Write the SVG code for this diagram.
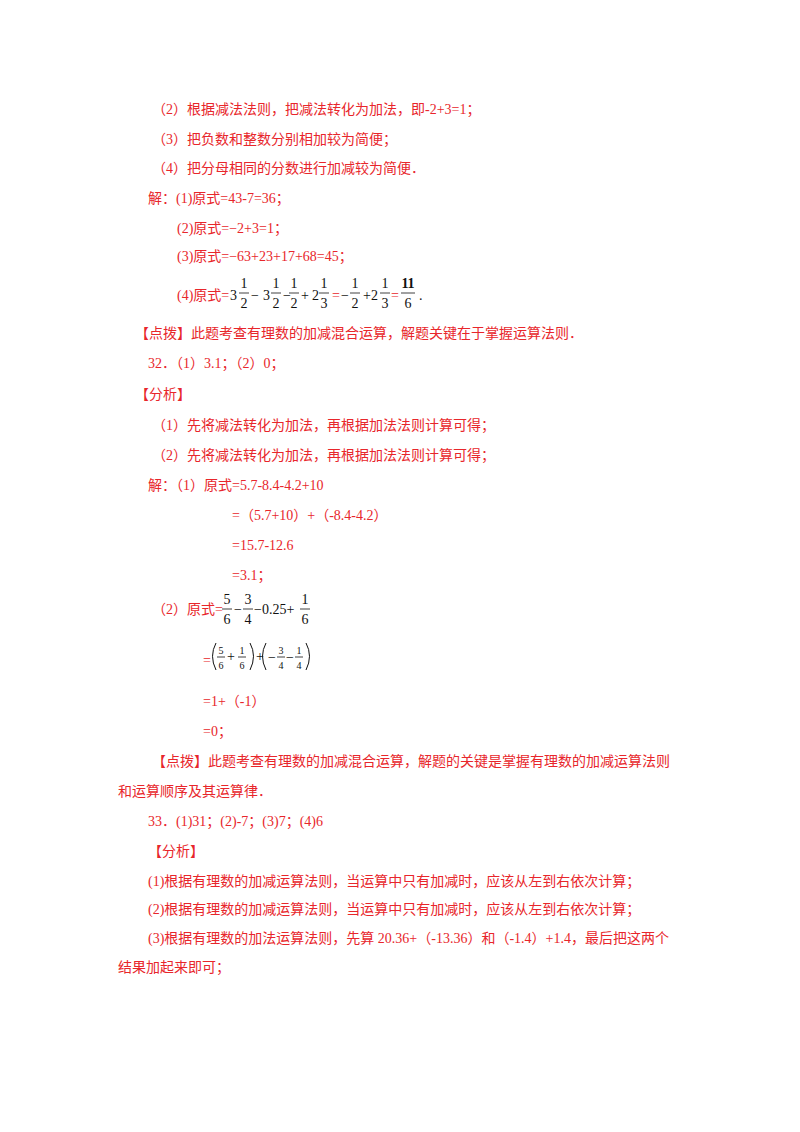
<svg xmlns="http://www.w3.org/2000/svg" width="800" height="1132" viewBox="0 0 800 1132">
<style>
text{font-family:"Liberation Serif","Noto Sans CJK SC",serif;font-size:14px}
.r{fill:#e8262b}
.k text{fill:#111}
.k .f{font-size:14px;text-anchor:middle}
.k .s{font-size:10px;text-anchor:middle}
line{stroke:#111;stroke-width:0.8}
.par{fill:none;stroke:#111;stroke-width:1}
</style>
<rect width="800" height="1132" fill="#fff"/>
<g class="r">
<text x="152" y="114">（2）根据减法法则，把减法转化为加法，即-2+3=1；</text>
<text x="152" y="144">（3）把负数和整数分别相加较为简便；</text>
<text x="152" y="173">（4）把分母相同的分数进行加减较为简便．</text>
<text x="148" y="203">解：(1)原式=43-7=36；</text>
<text x="177" y="233">(2)原式=−2+3=1；</text>
<text x="177" y="261">(3)原式=−63+23+17+68=45；</text>
<text x="177" y="300">(4)原式=</text>
<text x="332" y="300">=</text>
<text x="391" y="300">=</text>
</g>
<g class="k">
<text x="230" y="300">3</text>
<text x="251" y="300">−</text>
<text x="263" y="300">3</text>
<text x="283" y="300">−</text>
<text x="301" y="300">+</text>
<text x="312" y="300">2</text>
<text x="341" y="300">−</text>
<text x="363" y="300">+2</text>
<text x="419" y="300">.</text>
<text class="f" x="244" y="288">1</text><line x1="239" y1="293" x2="249" y2="293"/><text class="f" x="244" y="308">2</text>
<text class="f" x="276" y="288">1</text><line x1="271" y1="293" x2="281" y2="293"/><text class="f" x="276" y="308">2</text>
<text class="f" x="294" y="288">1</text><line x1="289" y1="293" x2="299" y2="293"/><text class="f" x="294" y="308">2</text>
<text class="f" x="324" y="288">1</text><line x1="319" y1="293" x2="329" y2="293"/><text class="f" x="324" y="308">3</text>
<text class="f" x="355" y="288">1</text><line x1="350" y1="293" x2="360" y2="293"/><text class="f" x="355" y="308">2</text>
<text class="f" x="385" y="288">1</text><line x1="380" y1="293" x2="390" y2="293"/><text class="f" x="385" y="308">3</text>
<text class="f" x="408" y="288" font-weight="bold">11</text><line x1="401" y1="293" x2="415" y2="293"/><text class="f" x="408" y="308">6</text>
</g>
<g class="r">
<text x="135" y="338">【点拨】此题考查有理数的加减混合运算，解题关键在于掌握运算法则．</text>
<text x="148" y="368" fill="#e8262b">32．（1）3.1；（2）0；</text>
<text x="135" y="399">【分析】</text>
<text x="152" y="430">（1）先将减法转化为加法，再根据加法法则计算可得；</text>
<text x="152" y="460">（2）先将减法转化为加法，再根据加法法则计算可得；</text>
<text x="148" y="490">解：（1）原式=5.7-8.4-4.2+10</text>
<text x="232" y="520">=（5.7+10）+（-8.4-4.2）</text>
<text x="232" y="550">=15.7-12.6</text>
<text x="232" y="580">=3.1；</text>
<text x="152" y="614">（2）原式=</text>
<text x="203" y="665">=</text>
<text x="203" y="706">=1+（-1）</text>
<text x="203" y="736">=0；</text>
</g>
<g class="k">
<text class="f" x="227" y="604">5</text><line x1="222" y1="609" x2="232" y2="609"/><text class="f" x="227" y="624">6</text>
<text x="234" y="614">−</text>
<text class="f" x="248" y="604">3</text><line x1="243" y1="609" x2="253" y2="609"/><text class="f" x="248" y="624">4</text>
<text x="254" y="614">−0.25+</text>
<text class="f" x="305" y="604">1</text><line x1="300" y1="609" x2="310" y2="609"/><text class="f" x="305" y="624">6</text>
<path class="par" d="M216 643 Q209 656 216 670"/>
<text class="s" x="221" y="654">5</text><line x1="217" y1="657" x2="225" y2="657"/><text class="s" x="221" y="669">6</text>
<text x="227" y="661" font-size="9">+</text>
<text class="s" x="242" y="654">1</text><line x1="238" y1="657" x2="246" y2="657"/><text class="s" x="242" y="669">6</text>
<path class="par" d="M250 643 Q257 656 250 670"/>
<text x="256" y="661" font-size="9">+</text>
<path class="par" d="M266 643 Q259 656 266 670"/>
<text x="268" y="662" font-size="11">−</text>
<text class="s" x="281" y="654">3</text><line x1="277" y1="657" x2="285" y2="657"/><text class="s" x="281" y="669">4</text>
<text x="286" y="662" font-size="11">−</text>
<text class="s" x="299" y="654">1</text><line x1="295" y1="657" x2="303" y2="657"/><text class="s" x="299" y="669">4</text>
<path class="par" d="M306 643 Q313 656 306 670"/>
</g>
<g class="r">
<text x="152" y="766">【点拨】此题考查有理数的加减混合运算，解题的关键是掌握有理数的加减运算法则</text>
<text x="118" y="796">和运算顺序及其运算律．</text>
<text x="148" y="826">33．(1)31；(2)-7；(3)7；(4)6</text>
<text x="148" y="856">【分析】</text>
<text x="148" y="886">(1)根据有理数的加减运算法则，当运算中只有加减时，应该从左到右依次计算；</text>
<text x="148" y="914">(2)根据有理数的加减运算法则，当运算中只有加减时，应该从左到右依次计算；</text>
<text x="148" y="943">(3)根据有理数的加法运算法则，先算 20.36+（-13.36）和（-1.4）+1.4，最后把这两个</text>
<text x="118" y="972">结果加起来即可；</text>
</g>
</svg>
